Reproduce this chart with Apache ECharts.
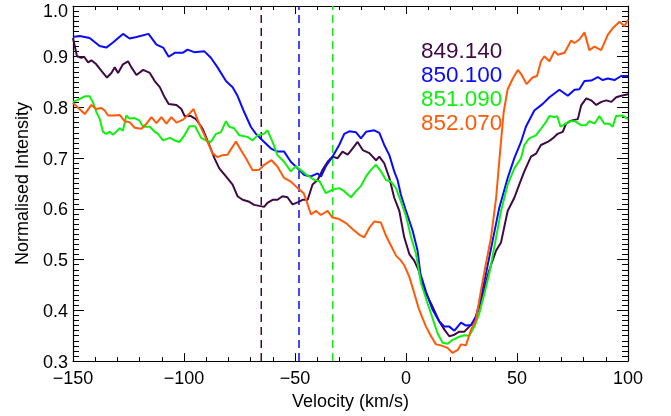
<!DOCTYPE html>
<html>
<head>
<meta charset="utf-8">
<script src="https://cdn.jsdelivr.net/npm/echarts@6/dist/echarts.min.js"></script>
<style>
  html, body { margin: 0; padding: 0; background: #fff; }
  #chart { width: 671px; height: 416px; }
</style>
</head>
<body>
<div id="chart"></div>
<script>
// line names (wavelengths, nm) and the rest velocities marked with dashed lines
const lineNames = ['849.140', '850.100', '851.090', '852.070'];
const markVelocities = [-65.2, -48.2, -33.0];

// [velocity km/s, normalised intensity]
const purple = [
  [-150, 0.937], [-148.2, 0.901], [-146.2, 0.898], [-145, 0.900], [-143.2, 0.889], [-141.7, 0.893],
  [-139.5, 0.885], [-137.2, 0.872], [-134.7, 0.859], [-132.7, 0.868], [-131.2, 0.879], [-129.7, 0.868],
  [-127.5, 0.885], [-125.2, 0.891], [-123.7, 0.879], [-121.4, 0.864], [-118.4, 0.874], [-115.4, 0.868],
  [-113.2, 0.852], [-110.9, 0.840], [-108.7, 0.820], [-106.9, 0.807], [-103.4, 0.805], [-101.2, 0.797],
  [-99.7, 0.783], [-96.9, 0.783], [-94.6, 0.777], [-91.6, 0.758], [-88.6, 0.726], [-86.3, 0.700],
  [-84.1, 0.680], [-81.1, 0.664], [-78.1, 0.648], [-75.9, 0.625], [-73.6, 0.618], [-70.6, 0.614],
  [-68.4, 0.608], [-66.1, 0.606], [-63.9, 0.604], [-62.4, 0.612], [-60.1, 0.618], [-57.9, 0.618],
  [-55.6, 0.625], [-53.4, 0.623], [-51.1, 0.609], [-48.8, 0.613], [-46.6, 0.618], [-44.3, 0.618],
  [-42.1, 0.648], [-39.8, 0.657], [-37.6, 0.677], [-35.3, 0.693], [-33.1, 0.703], [-30.8, 0.700],
  [-28.6, 0.713], [-26.3, 0.707], [-24.8, 0.715], [-21.8, 0.732], [-19.5, 0.716], [-16.5, 0.710],
  [-13.5, 0.696], [-12, 0.703], [-9.8, 0.690], [-7.5, 0.661], [-5.3, 0.622], [-3, 0.596],
  [-0.8, 0.544], [1.5, 0.511], [3.7, 0.498], [5.7, 0.479], [8.2, 0.440], [12, 0.407],
  [15, 0.378], [17.3, 0.362], [19.5, 0.349], [21.8, 0.352], [24, 0.358], [26.3, 0.358],
  [28.5, 0.368], [30.8, 0.378], [33, 0.407], [35.3, 0.443], [37.5, 0.479], [40.6, 0.518],
  [42.8, 0.534], [45.8, 0.596], [48.8, 0.622], [51, 0.648], [53.3, 0.674], [56.3, 0.703],
  [58.6, 0.709], [60.8, 0.726], [63.8, 0.732], [66.1, 0.739], [68.3, 0.748], [70.6, 0.752],
  [72.1, 0.768], [74.4, 0.774], [77.4, 0.777], [78.9, 0.804], [81.2, 0.818], [83.4, 0.814],
  [85.7, 0.805], [88, 0.811], [90.2, 0.814], [92.5, 0.811], [94.7, 0.820], [97, 0.823], [100, 0.826]
];

const blue = [
  [-150, 0.939], [-147, 0.941], [-142.5, 0.937], [-138, 0.921], [-135, 0.918], [-132, 0.928],
  [-127.5, 0.945], [-124.5, 0.936], [-121.4, 0.939], [-116, 0.945], [-112.4, 0.924], [-109.4, 0.918],
  [-106.9, 0.900], [-104, 0.908], [-100.4, 0.908], [-98.4, 0.914], [-95.4, 0.909], [-90.9, 0.911],
  [-87.9, 0.898], [-84.9, 0.879], [-81.1, 0.852], [-78.1, 0.840], [-75.9, 0.823], [-72.9, 0.791],
  [-69.9, 0.762], [-67.6, 0.748], [-64.6, 0.735], [-60.8, 0.719], [-57.9, 0.713], [-54.9, 0.713],
  [-51.9, 0.693], [-48.8, 0.680], [-45.8, 0.667], [-42.8, 0.664], [-39.8, 0.670], [-38.3, 0.664],
  [-36.1, 0.684], [-33.1, 0.703], [-30.1, 0.726], [-27.8, 0.748], [-25.6, 0.753], [-22.5, 0.751],
  [-20.3, 0.739], [-18, 0.752], [-14.3, 0.755], [-12, 0.750], [-9.8, 0.726], [-7.5, 0.706],
  [-5.3, 0.674], [-3.8, 0.657], [-2.3, 0.628], [0, 0.596], [3, 0.557], [5.2, 0.518],
  [6.5, 0.472], [9, 0.437], [12, 0.401], [15, 0.378], [17.3, 0.368], [19.5, 0.368],
  [21.8, 0.360], [24.8, 0.376], [27, 0.370], [29.3, 0.371], [31.5, 0.388], [33.8, 0.427],
  [36, 0.472], [39, 0.537], [42, 0.602], [45.8, 0.661], [48.8, 0.700], [51.8, 0.732],
  [54, 0.762], [57.8, 0.794], [61.6, 0.807], [64.6, 0.820], [69.1, 0.835], [72.9, 0.823],
  [75.9, 0.835], [78.1, 0.836], [80.4, 0.852], [83.4, 0.853], [86.4, 0.860], [88.6, 0.854],
  [90.9, 0.857], [93.9, 0.854], [96.9, 0.862], [100, 0.862]
];

const green = [
  [-150, 0.811], [-147.8, 0.815], [-144.7, 0.822], [-142.5, 0.822], [-140.9, 0.809], [-139.5, 0.791],
  [-138, 0.778], [-136.5, 0.752], [-135, 0.748], [-133.5, 0.752], [-132, 0.746], [-128.9, 0.759],
  [-127.5, 0.754], [-126, 0.784], [-124.5, 0.778], [-122.2, 0.779], [-120, 0.774], [-118.4, 0.762],
  [-115.4, 0.762], [-113.2, 0.752], [-111.7, 0.748], [-109.4, 0.735], [-106.4, 0.740], [-104.2, 0.735],
  [-102, 0.732], [-99.8, 0.745], [-97.5, 0.763], [-95, 0.763], [-92.3, 0.740], [-90.1, 0.735],
  [-87.9, 0.732], [-85.6, 0.748], [-83.4, 0.751], [-81.1, 0.773], [-79.6, 0.762], [-77.4, 0.759],
  [-75.1, 0.745], [-71.4, 0.742], [-69.1, 0.735], [-66.9, 0.745], [-63.9, 0.748], [-62.4, 0.755],
  [-60.1, 0.732], [-57.9, 0.706], [-54.9, 0.693], [-51.9, 0.674], [-49.6, 0.684], [-46.6, 0.674],
  [-45, 0.668], [-41.3, 0.657], [-39, 0.655], [-36.1, 0.631], [-33.1, 0.638], [-30.1, 0.641],
  [-27.8, 0.635], [-24.8, 0.623], [-22.5, 0.635], [-20.3, 0.645], [-18, 0.664], [-15.8, 0.677],
  [-13.5, 0.687], [-11.3, 0.674], [-9, 0.657], [-6.8, 0.654], [-4.5, 0.641], [-2.3, 0.615],
  [0, 0.586], [2.3, 0.544], [4.5, 0.511], [6.8, 0.453], [9.7, 0.414], [12, 0.384],
  [14.2, 0.355], [16.5, 0.336], [18.7, 0.334], [21, 0.342], [24, 0.348], [26.3, 0.351],
  [28.5, 0.350], [30.8, 0.368], [33, 0.394], [35.3, 0.433], [37.5, 0.472], [40.6, 0.544],
  [42.8, 0.596], [45.8, 0.648], [48.8, 0.680], [51.8, 0.700], [53.3, 0.726], [55.5, 0.739],
  [58.5, 0.745], [60.8, 0.758], [63, 0.771], [64.6, 0.783], [66.9, 0.781], [68.1, 0.783],
  [69.6, 0.762], [71.9, 0.768], [73.6, 0.773], [76, 0.773], [78.9, 0.765], [81.1, 0.765],
  [82.6, 0.773], [84.9, 0.768], [87.1, 0.783], [89.4, 0.768], [91.6, 0.768], [93.1, 0.762],
  [94.6, 0.783], [97.6, 0.784], [100, 0.777]
];

const orange = [
  [-150, 0.809], [-147.8, 0.800], [-144.7, 0.787], [-141.7, 0.805], [-139.5, 0.797], [-137.2, 0.799],
  [-135.7, 0.794], [-134.2, 0.784], [-131.9, 0.784], [-128.9, 0.785], [-126.7, 0.773], [-124.5, 0.771],
  [-122.2, 0.760], [-119.2, 0.758], [-116.9, 0.768], [-114.7, 0.781], [-112.4, 0.769], [-110.2, 0.781],
  [-107.9, 0.768], [-105.7, 0.781], [-103.4, 0.770], [-100.4, 0.776], [-97.7, 0.787], [-95.7, 0.797],
  [-93.2, 0.768], [-90.1, 0.739], [-87.2, 0.710], [-84.9, 0.702], [-82.7, 0.706], [-80.4, 0.707],
  [-76.6, 0.733], [-74.4, 0.716], [-72.1, 0.700], [-69.1, 0.676], [-66.1, 0.677], [-63.9, 0.687],
  [-60.6, 0.696], [-58, 0.684], [-54.9, 0.661], [-51.9, 0.654], [-48.8, 0.641], [-46.1, 0.631],
  [-45, 0.618], [-42.8, 0.589], [-40.5, 0.596], [-38.3, 0.588], [-35.3, 0.596], [-33.1, 0.583],
  [-30.1, 0.580], [-27, 0.572], [-24, 0.560], [-21, 0.549], [-18.8, 0.544], [-16.5, 0.563],
  [-14.3, 0.575], [-11.3, 0.573], [-9, 0.547], [-6.8, 0.528], [-4.5, 0.508], [-2.3, 0.498],
  [-0.8, 0.489], [1.5, 0.466], [3.7, 0.434], [5.7, 0.404], [9, 0.368], [11.3, 0.349],
  [13.5, 0.333], [15.8, 0.331], [18.7, 0.326], [21, 0.316], [23.3, 0.322], [24.8, 0.333],
  [27, 0.331], [29.3, 0.362], [31.5, 0.381], [33.8, 0.440], [36, 0.492], [38.3, 0.544],
  [40.6, 0.622], [42.5, 0.719], [44, 0.791], [45.8, 0.836], [48, 0.856], [50.4, 0.874],
  [52, 0.865], [54.3, 0.846], [57, 0.859], [59, 0.862], [60.8, 0.891], [62.3, 0.901],
  [64.6, 0.891], [66.9, 0.911], [68.3, 0.904], [71.4, 0.908], [74.4, 0.932], [75.9, 0.927],
  [78.1, 0.934], [80.4, 0.948], [82.6, 0.913], [84.9, 0.920], [87.9, 0.913], [90.9, 0.943],
  [93.1, 0.956], [96.2, 0.969], [98.4, 0.960], [100, 0.973]
];

const xTicks = { min: -150, max: 100, interval: 50 };
const yTicks = { min: 0.3, max: 1.0, interval: 0.1 };

const colors = ['#3f0a44', '#0a0aff', '#10f010', '#ff5a0a'];
const FONT = 'Liberation Sans, Arial, Helvetica, sans-serif';

const chart = echarts.init(document.getElementById('chart'), null, { renderer: 'canvas' });

function baseAxis(extra) {
    return Object.assign({
        type: 'value',
        axisLine: { show: true, onZero: false, lineStyle: { color: '#000', width: 1.2 } },
        splitLine: { show: false },
        axisTick: { show: true, inside: true, lineStyle: { color: '#000', width: 1 } },
        minorTick: { show: true, lineStyle: { color: '#000', width: 1 } }
    }, extra);
}

const xCommon = { min: xTicks.min, max: xTicks.max, interval: xTicks.interval, gridIndex: 0 };
const yCommon = { min: yTicks.min, max: yTicks.max, interval: yTicks.interval, gridIndex: 0 };

const profiles = [purple, blue, green, orange];

const series = profiles.map((d, i) => ({
    name: lineNames[i],
    type: 'line',
    data: d,
    symbol: 'none',
    smooth: false,
    lineStyle: { color: colors[i], width: 2 },
    itemStyle: { color: colors[i] },
    z: 3 + i
}));

markVelocities.forEach((v, i) => {
    series.push({
        name: 'rest' + i,
        type: 'line',
        data: [[v, yTicks.min], [v, yTicks.max]],
        symbol: 'none',
        lineStyle: { color: colors[i], width: 1.5, type: [8, 5] },
        z: 2
    });
});

// the top label of the y axis sits inside the axis range, like the original
function yLabel(v) {
    const s = v.toFixed(1);
    if (Math.abs(v - yTicks.max) < 1e-6) return '{top|' + s + '}';
    return '{mid|' + s + '}';
}

const option = {
    animation: false,
    backgroundColor: '#fff',
    grid: { left: 73, right: 43, top: 6, bottom: 51, containLabel: false },
    legend: {
        data: lineNames.map((n, i) => ({ name: n, icon: 'none', textStyle: { color: colors[i] } })),
        orient: 'vertical',
        left: 416,
        top: 40,
        itemWidth: 0,
        itemHeight: 0,
        itemGap: 1,
        padding: 0,
        selectedMode: false,
        textStyle: { fontFamily: FONT, fontSize: 22.5, lineHeight: 22, padding: [0, 0, 0, 0] }
    },
    xAxis: [
        baseAxis(Object.assign({}, xCommon, {
            position: 'bottom',
            name: 'Velocity (km/s)',
            nameLocation: 'middle',
            nameGap: 30,
            nameTextStyle: { color: '#000', fontFamily: FONT, fontSize: 18 },
            axisTick: { show: true, inside: true, length: 8, lineStyle: { color: '#000', width: 1 } },
            minorTick: { show: true, splitNumber: 5, length: 4, lineStyle: { color: '#000', width: 1 } },
            axisLabel: {
                color: '#000', fontFamily: FONT, fontSize: 18, margin: 9,
                formatter: v => String(v).replace('-', '\u2212')
            }
        })),
        baseAxis(Object.assign({}, xCommon, {
            position: 'top',
            axisTick: { show: true, inside: true, length: 8, lineStyle: { color: '#000', width: 1 } },
            minorTick: { show: true, splitNumber: 5, length: 4, lineStyle: { color: '#000', width: 1 } },
            axisLabel: { show: false }
        }))
    ],
    yAxis: [
        baseAxis(Object.assign({}, yCommon, {
            position: 'left',
            name: 'Normalised Intensity',
            nameLocation: 'middle',
            nameGap: 40,
            nameTextStyle: { color: '#000', fontFamily: FONT, fontSize: 18 },
            axisTick: { show: true, inside: true, length: 11, lineStyle: { color: '#000', width: 1 } },
            minorTick: { show: true, splitNumber: 10, length: 6, lineStyle: { color: '#000', width: 1 } },
            axisLabel: {
                color: '#000', fontFamily: FONT, fontSize: 18, margin: 5,
                formatter: yLabel,
                rich: {
                    top: { fontFamily: FONT, fontSize: 18, color: '#000', padding: [12, 0, 0, 0] },
                    mid: { fontFamily: FONT, fontSize: 18, color: '#000', padding: [3, 0, 0, 0] }
                }
            }
        })),
        baseAxis(Object.assign({}, yCommon, {
            position: 'right',
            axisTick: { show: true, inside: true, length: 11, lineStyle: { color: '#000', width: 1 } },
            minorTick: { show: true, splitNumber: 10, length: 6, lineStyle: { color: '#000', width: 1 } },
            axisLabel: { show: false }
        }))
    ],
    series: series
};

chart.setOption(option);
</script>
</body>
</html>
